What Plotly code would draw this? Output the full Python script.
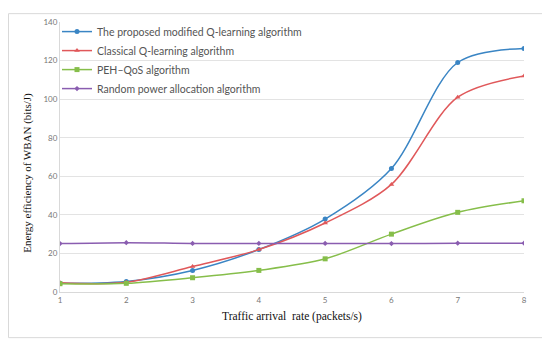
import plotly.graph_objects as go

x_vals = [1, 2, 3, 4, 5, 6, 7, 8]
proposed = [4.5, 5.5, 11.2, 22.0, 37.8, 64.0, 119.0, 126.3]
classical = [4.8, 5.0, 13.2, 22.0, 35.8, 55.8, 101.0, 112.0]
peh_qos = [4.3, 4.5, 7.4, 11.2, 17.2, 30.0, 41.3, 47.3]
random_alloc = [25.1, 25.6, 25.2, 25.2, 25.2, 25.1, 25.3, 25.3]

names = ["The proposed modified Q-learning algorithm",
         "Classical Q-learning algorithm",
         "PEH\u2013QoS algorithm",
         "Random power allocation algorithm"]
colors = ["#3A85C4", "#E0585A", "#86BE4A", "#8A5DB0"]
symbols = ["circle", "triangle-up", "square", "diamond"]
sizes = [5, 5, 5, 4]
series = [proposed, classical, peh_qos, random_alloc]

# figure is placed by the page at an 8px offset (body margin)
W, H = 542, 331
L, R, T, B = 52, 26, 9, 47
PW, PH = W - L - R, H - T - B


def px(fx):
    return (fx - L) / PW


def py(fy):
    return (T + PH - fy) / PH


fig = go.Figure()
for n, c, s, sz, y in zip(names, colors, symbols, sizes, series):
    fig.add_trace(go.Scatter(
        x=x_vals, y=y, name=n, mode="lines+markers",
        line=dict(color=c, width=1.5, shape="spline", smoothing=0.9),
        marker=dict(color=c, symbol=s, size=sz),
    ))

fig.update_layout(
    width=W, height=H,
    margin=dict(l=L, r=R, t=T, b=B),
    paper_bgcolor="white", plot_bgcolor="white",
    showlegend=True,
    legend=dict(x=px(L - 3), y=py(T - 5), xanchor="left", yanchor="top",
                bgcolor="rgba(0,0,0,0)", tracegroupgap=0,
                font=dict(family="Lato, Open Sans, sans-serif", size=10.5, color="#555555"),
                itemwidth=30),
    xaxis=dict(range=[1, 8], tickvals=x_vals, showgrid=False,
               showline=True, linecolor="#D9D9D9", linewidth=1, zeroline=False,
               ticks="", tickfont=dict(family="Lato, sans-serif", size=8, color="#777777"),
               title=dict(text="Traffic arrival  rate (packets/s)",
                          font=dict(family="Liberation Serif, Times New Roman, serif", size=11.5, color="#111111"),
                          standoff=8)),
    yaxis=dict(range=[0, 140], dtick=20, showgrid=True, gridcolor="#E3E3E3",
               showline=True, linecolor="#D9D9D9", linewidth=1, zeroline=False,
               ticks="", tickfont=dict(family="Lato, sans-serif", size=8, color="#777777")),
    annotations=[dict(text="Energy efficiency of WBAN (bits/J)", textangle=-90,
                      xref="paper", yref="paper", x=px(20), y=py(162.5),
                      xanchor="center", yanchor="middle", showarrow=False,
                      font=dict(family="Liberation Serif, Times New Roman, serif", size=11, color="#111111"))],
    shapes=[dict(type="rect", xref="paper", yref="paper",
                 x0=px(0.5), x1=px(535),
                 y0=py(330.5), y1=py(0.5),
                 line=dict(color="#D9D9D9", width=1), layer="below")],
)

fig.write_html("out.html")
